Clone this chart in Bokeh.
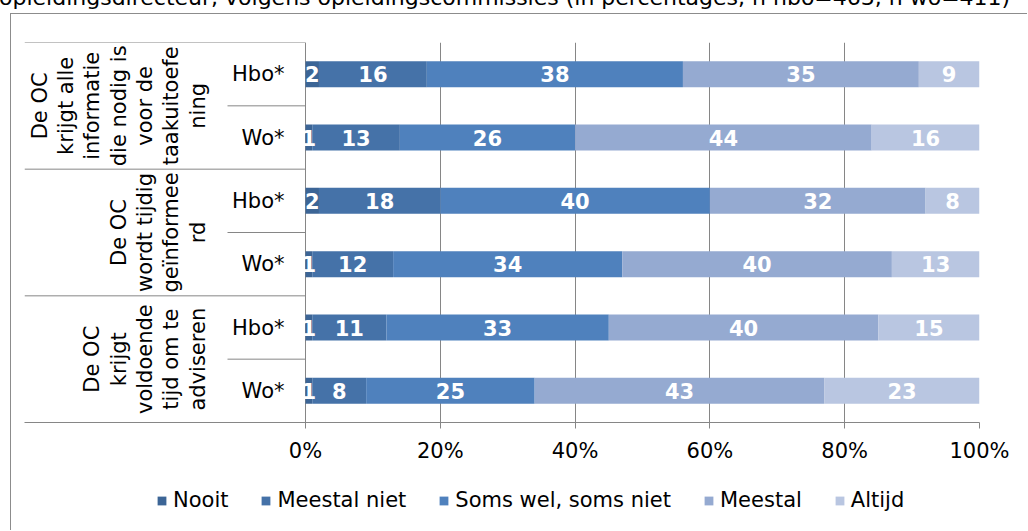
from bokeh.plotting import figure
from bokeh.layouts import column
from bokeh.models import ColumnDataSource, FixedTicker, Legend, LegendItem, Range1d, Div
from bokeh.core.properties import value
from bokeh.embed import file_html
from bokeh.resources import INLINE
import math

# ---------------- data ----------------
title_text = ("opleidingsdirecteur, volgens opleidingscommissies "
              "(in percentages, n hbo=463, n wo=411)*")
group_lines = [
    ["De OC", "krijgt alle", "informatie", "die nodig is", "voor de", "taakuitoefe", "ning"],
    ["De OC", "wordt tijdig", "geïnformee", "rd"],
    ["De OC", "krijgt", "voldoende", "tijd om te", "adviseren"],
]
subgroups = ["Hbo*", "Wo*"]
series = ["Nooit", "Meestal niet", "Soms wel, soms niet", "Meestal", "Altijd"]
nooit = [2, 1, 2, 1, 1, 1]
meestal_niet = [16, 13, 18, 12, 11, 8]
soms_wel = [38, 26, 40, 34, 33, 25]
meestal = [35, 44, 32, 40, 40, 43]
altijd = [9, 16, 8, 13, 15, 23]
tick_values = [0, 20, 40, 60, 80, 100]
tick_labels = ["0%", "20%", "40%", "60%", "80%", "100%"]
colors = ["#3C6596", "#4572A8", "#4F81BD", "#95AAD1", "#B9C6E1"]

values = [nooit, meestal_niet, soms_wel, meestal, altijd]

# ---------------- layout (canvas px; canvas starts at page x=11, y=14) ----------------
OX, OY = 11, 14
W = 1028 - OX
SPLIT = 470                      # page y where the legend strip starts
H1 = SPLIT - OY
H2 = 531 - SPLIT
FRAME_L, FRAME_R = 24 - OX, 979 - OX
FRAME_T, FRAME_B = 42 - OY, 422 - OY
ZERO_PX = 305 - OX
XMAX = 100.0
ppu = (FRAME_R - ZERO_PX) / XMAX
XMIN = -(ZERO_PX - FRAME_L) / ppu
n_rows = len(group_lines) * len(subgroups)
GRID = "#868686"
BORDER = "1px solid #8C8C8C"
FONT = "DejaVu Sans"
FS = "21px"


def to_x(page_px):
    return (page_px - OX - ZERO_PX) / ppu


# clipped caption line above the chart box (only its lower part is visible)
head = Div(text=('<div style="position:absolute; left:-1px; bottom:4px; white-space:nowrap; '
                 'font-family:\'DejaVu Sans\'; font-size:22px; line-height:22px; color:black;">'
                 + title_text + '</div>'),
           width=1028, height=OY - 1, margin=(0, 0, 0, 0),
           styles={"overflow": "hidden", "position": "relative"})

p = figure(width=W, height=H1, x_range=Range1d(XMIN, XMAX), y_range=Range1d(0, n_rows),
           output_backend="svg", toolbar_location=None,
           min_border_left=FRAME_L, min_border_right=W - FRAME_R,
           min_border_top=FRAME_T, min_border_bottom=H1 - FRAME_B)
p.margin = (0, 0, 0, OX - 1)
p.styles = {"border-left": BORDER, "border-top": BORDER}
p.outline_line_color = None
p.background_fill_color = "white"
p.border_fill_color = "white"
p.yaxis.visible = False
p.ygrid.visible = False

p.xaxis.ticker = FixedTicker(ticks=tick_values)
p.xgrid.ticker = FixedTicker(ticks=tick_values)
p.xgrid.grid_line_color = GRID
p.xgrid.grid_line_width = 1
p.xaxis.axis_line_color = GRID
p.xaxis.major_tick_line_color = GRID
p.xaxis.major_tick_out = 6
p.xaxis.major_tick_in = 0
p.xaxis.minor_tick_line_color = None
p.xaxis.major_label_overrides = {v: l for v, l in zip(tick_values, tick_labels)}
p.xaxis.major_label_text_font = FONT
p.xaxis.major_label_text_font_size = FS
p.xaxis.major_label_text_color = "black"
p.xaxis.major_label_standoff = 10

# rows top -> bottom
row_y = [n_rows - i - 0.5 for i in range(n_rows)]

# table lines (label area)
p.segment(x0=[XMIN], y0=[n_rows], x1=[0], y1=[n_rows], line_color=GRID, line_width=1)
sub_left = to_x(227)
for g in range(len(group_lines)):
    y_top = n_rows - g * len(subgroups)
    if g > 0:
        p.segment(x0=[XMIN], y0=[y_top], x1=[0], y1=[y_top], line_color=GRID, line_width=1)
    for s in range(1, len(subgroups)):
        ys = y_top - s
        p.segment(x0=[sub_left], y0=[ys], x1=[0], y1=[ys], line_color=GRID, line_width=1)

# bars
BAR_H = 0.41
cum = [0.0] * n_rows
lab_x, lab_y, lab_t = [], [], []
for j, vals in enumerate(values):
    left = cum[:]
    right = [c + v for c, v in zip(cum, vals)]
    src = ColumnDataSource(dict(y=row_y, left=left, right=right))
    p.hbar(y="y", left="left", right="right", height=BAR_H, source=src,
           fill_color=colors[j], line_color=None)
    for i in range(n_rows):
        lab_x.append((left[i] + right[i]) / 2)
        lab_y.append(row_y[i])
        lab_t.append(str(vals[i]))
    cum = right

p.text(x=lab_x, y=lab_y, text=lab_t, text_color="white", text_font=value(FONT),
       text_font_style="bold", text_font_size=FS, text_align="center",
       text_baseline="middle")

# subgroup labels
sub_x, sub_y, sub_t = [], [], []
for g in range(len(group_lines)):
    for s, name in enumerate(subgroups):
        sub_x.append(to_x(284))
        sub_y.append(row_y[g * len(subgroups) + s])
        sub_t.append(name)
p.text(x=sub_x, y=sub_y, text=sub_t, text_color="black", text_font=value(FONT),
       text_font_size=FS, text_align="right", text_baseline="middle")

# group labels (rotated, one line per glyph)
LINE_SP = 26.3
LAST_PAGE_PX = 197
gx, gy, gt = [], [], []
for g, lines in enumerate(group_lines):
    yc = n_rows - g * len(subgroups) - len(subgroups) / 2
    n = len(lines)
    for k, line in enumerate(lines):
        gx.append(to_x(LAST_PAGE_PX - (n - 1 - k) * LINE_SP))
        gy.append(yc)
        gt.append(line)
p.text(x=gx, y=gy, text=gt, angle=math.pi / 2, text_color="black", text_font=value(FONT),
       text_font_size=FS, text_align="center", text_baseline="middle")

# ---------------- legend strip ----------------
q = figure(width=W, height=H2, x_range=Range1d(0, 1), y_range=Range1d(0, 1),
           output_backend="svg", toolbar_location=None, min_border=0)
q.margin = (0, 0, 0, OX - 1)
q.styles = {"border-left": BORDER}
q.outline_line_color = None
q.axis.visible = False
q.grid.visible = False
q.background_fill_color = "white"
q.border_fill_color = "white"
leg_renderers = []
for j, s in enumerate(series):
    # swatch carrier only: its single bar lies outside the strip's visible range
    r = q.hbar(y=[-5], left=[0], right=[1], height=0.5, fill_color=colors[j], line_color=None)
    leg_renderers.append(r)

LEG_LABEL_H = 24
legend = Legend(items=[LegendItem(label=s, renderers=[r]) for s, r in zip(series, leg_renderers)],
                orientation="horizontal",
                location=(158 - OX - 15, (531 - 501) - LEG_LABEL_H // 2))
legend.glyph_width = 11
legend.glyph_height = 11
legend.label_height = LEG_LABEL_H
legend.label_standoff = 6
legend.spacing = 32
legend.padding = 0
legend.margin = 0
legend.border_line_color = None
legend.background_fill_alpha = 0
legend.label_text_font = FONT
legend.label_text_font_size = FS
legend.label_text_color = "black"
q.add_layout(legend)

layout = column(head, p, q, spacing=0)
open("out.html", "w").write(file_html(layout, INLINE))
